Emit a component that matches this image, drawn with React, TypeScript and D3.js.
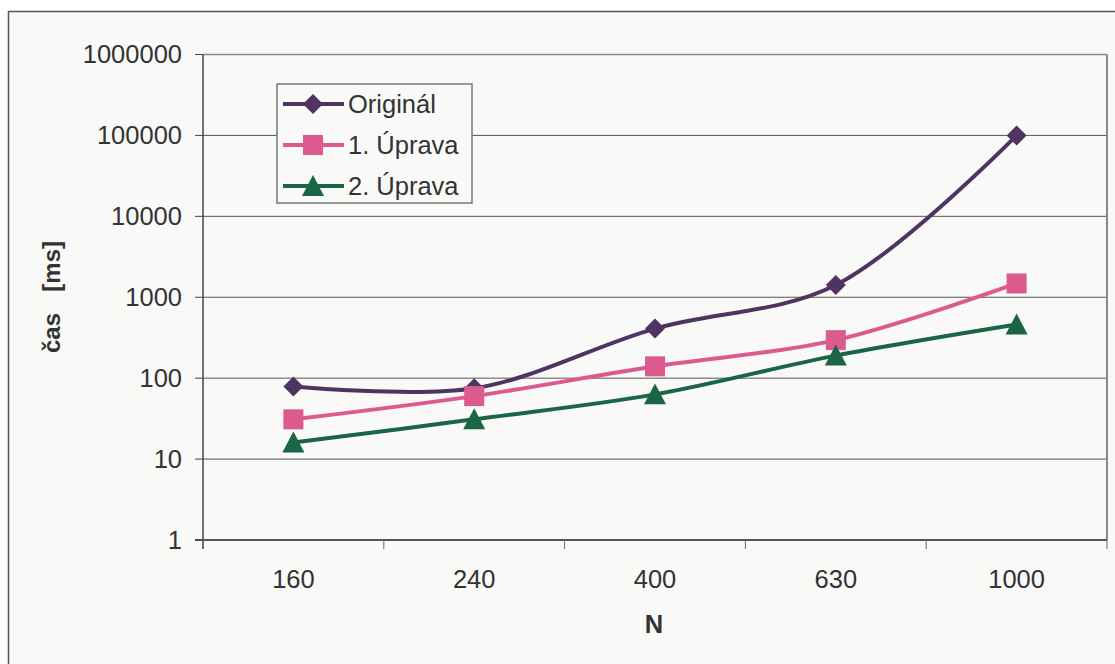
import React from "react";
import * as d3 from "d3";

const categories = ["160", "240", "400", "630", "1000"];
const original = [79, 75, 410, 1420, 100000];
const uprava1 = [31, 60, 140, 295, 1480];
const uprava2 = [16, 31, 63, 190, 460];
const yTicks = [1, 10, 100, 1000, 10000, 100000, 1000000];

const seriesNames = ["Originál", "1. Úprava", "2. Úprava"];
const seriesColors = ["#4f3461", "#dc5a8e", "#1a6547"];
const seriesShapes = ["diamond", "square", "triangle"];

const W = 1115;
const H = 664;
const left = 203;
const right = 1107;
const top = 54.5;
const bottom = 540;
const font = "'Liberation Sans', Arial, sans-serif";
const fs = 25.5;

function Marker({ shape, x, y, color }: { shape: string; x: number; y: number; color: string }) {
  if (shape === "diamond") {
    const s = 10;
    return <path d={`M${x},${y - s}L${x + s},${y}L${x},${y + s}L${x - s},${y}Z`} fill={color} />;
  }
  if (shape === "square") {
    const s = 10;
    return <rect x={x - s} y={y - s} width={2 * s} height={2 * s} fill={color} />;
  }
  const s = 11;
  return <path d={`M${x},${y - s}L${x + s},${y + s * 0.9}L${x - s},${y + s * 0.9}Z`} fill={color} />;
}

export default function App() {
  const x = d3.scaleBand().domain(categories).range([left, right]);
  const y = d3.scaleLog().domain([1, 1000000]).range([bottom, top]);
  const cx = (c: string) => (x(c) as number) + x.bandwidth() / 2;
  const line = d3
    .line<[number, number]>()
    .x((d) => d[0])
    .y((d) => d[1])
    .curve(d3.curveCatmullRom.alpha(0.5));
  const data = [original, uprava1, uprava2];
  const xBounds = categories.map((c) => x(c) as number).concat([right]);

  return (
    <svg width={W} height={H} style={{ display: "block", position: "absolute", left: 0, top: 0 }}>
      <rect x={0} y={0} width={W} height={H} fill="#ffffff" />
      <rect x={8.5} y={11.5} width={W + 10} height={H + 10} fill="#f9f9f7" stroke="#555" strokeWidth={1.5} />
      {/* gridlines */}
      {yTicks.map((t) => (
        <line key={t} x1={left} x2={right} y1={y(t)} y2={y(t)} stroke="#555" strokeWidth={1} />
      ))}
      {/* plot border right/top */}
      <line x1={right} x2={right} y1={top} y2={bottom} stroke="#888" strokeWidth={2} />
      <line x1={left} x2={right} y1={top} y2={top} stroke="#888" strokeWidth={1.5} />
      {/* axes */}
      <line x1={left} x2={left} y1={top} y2={bottom + 9} stroke="#444" strokeWidth={1.5} />
      <line x1={left - 8} x2={right} y1={bottom} y2={bottom} stroke="#555" strokeWidth={2} />
      {yTicks.map((t) => (
        <g key={"yt" + t}>
          <line x1={left - 8} x2={left} y1={y(t)} y2={y(t)} stroke="#444" strokeWidth={1} />
          <text x={182} y={y(t)} dy="0.35em" textAnchor="end" fontFamily={font} fontSize={fs} fill="#333">
            {t}
          </text>
        </g>
      ))}
      {xBounds.map((b, i) => (
        <line key={"xt" + i} x1={b} x2={b} y1={bottom} y2={bottom + 9} stroke="#666" strokeWidth={1} />
      ))}
      {categories.map((c) => (
        <text key={c} x={cx(c)} y={588} textAnchor="middle" fontFamily={font} fontSize={fs} fill="#333">
          {c}
        </text>
      ))}
      <text x={654} y={633} textAnchor="middle" fontFamily={font} fontSize={fs} fontWeight="bold" fill="#333">
        N
      </text>
      <g transform={`translate(60, ${297}) rotate(-90)`} fontFamily={font} fontSize={24} fontWeight="bold" fill="#333">
        <text x={-56} y={0} textAnchor="start">čas</text>
        <text x={56} y={0} textAnchor="end">[ms]</text>
      </g>
      {/* series */}
      {data.map((vals, si) => (
        <path
          key={"l" + si}
          d={line(vals.map((v, i) => [cx(categories[i]), y(v)]) as [number, number][]) || ""}
          fill="none"
          stroke={seriesColors[si]}
          strokeWidth={4}
        />
      ))}
      {data.map((vals, si) =>
        vals.map((v, i) => (
          <Marker key={"m" + si + i} shape={seriesShapes[si]} x={cx(categories[i])} y={y(v)} color={seriesColors[si]} />
        ))
      )}
      {/* legend */}
      <rect x={277} y={84} width={195} height={119} fill="#f9f9f7" stroke="#777" strokeWidth={1.5} />
      {seriesNames.map((n, i) => {
        const ly = 104 + i * 41;
        return (
          <g key={n}>
            <line x1={283} x2={344} y1={ly} y2={ly} stroke={seriesColors[i]} strokeWidth={4} />
            <Marker shape={seriesShapes[i]} x={313} y={ly} color={seriesColors[i]} />
            <text x={348} y={ly} dy="0.35em" fontFamily={font} fontSize={fs} fill="#333">
              {n}
            </text>
          </g>
        );
      })}
    </svg>
  );
}
